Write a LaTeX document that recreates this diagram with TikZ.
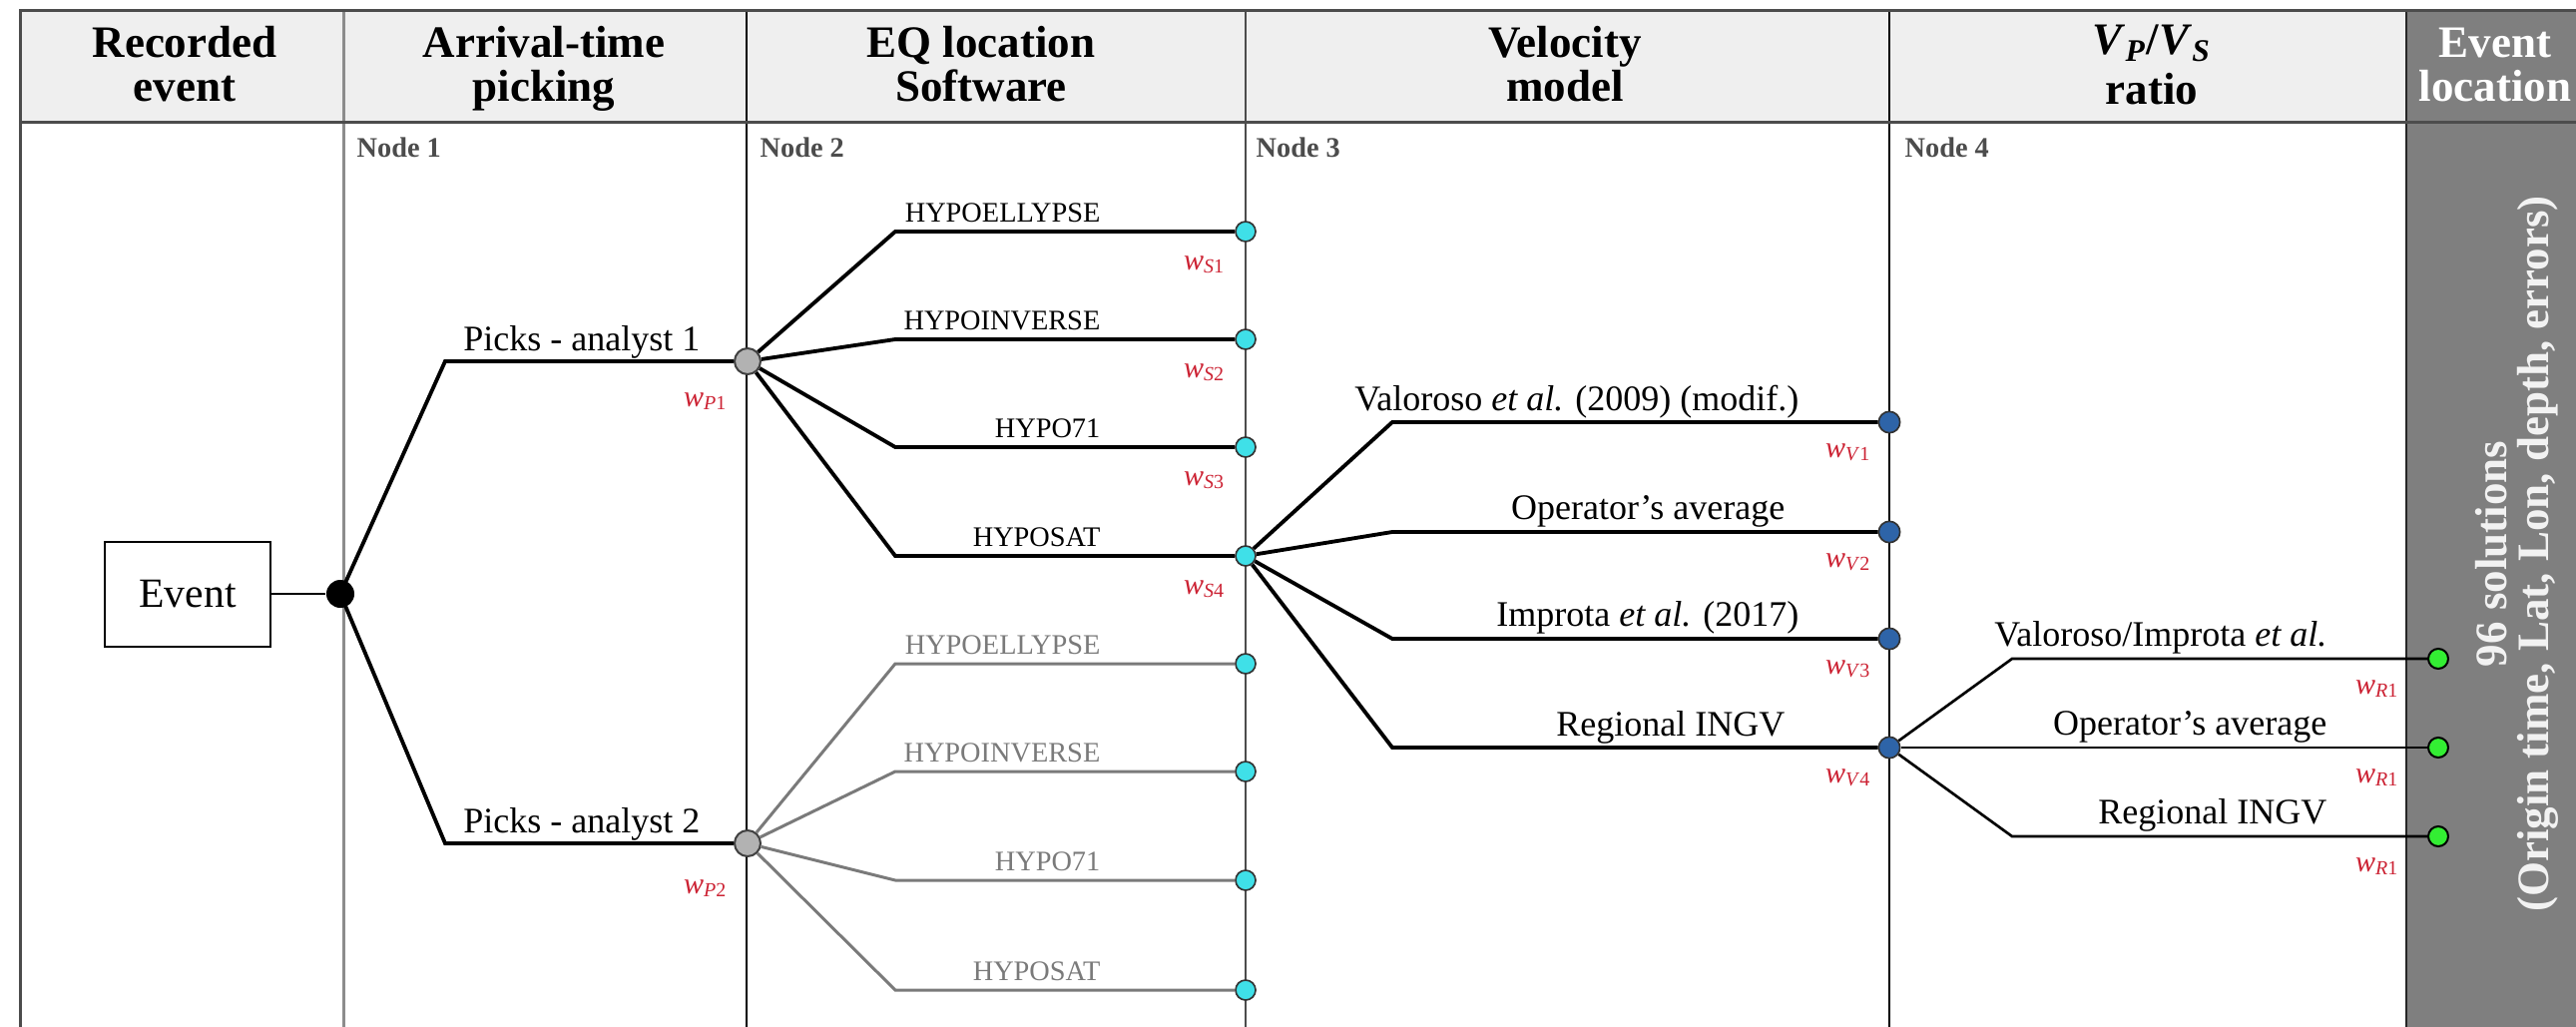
\documentclass[tikz,border=0pt]{standalone}
\usepackage{fontspec}
\setmainfont{Liberation Serif}
\definecolor{hdr}{HTML}{EFEFEF}
\definecolor{darkcol}{HTML}{7F7F7F}
\definecolor{cyandot}{HTML}{3FE0E8}
\definecolor{bluedot}{HTML}{2E64A8}
\definecolor{greendot}{HTML}{33EE33}
\definecolor{wred}{HTML}{CC2233}
\definecolor{graybr}{HTML}{7A7A7A}
\begin{document}
\begin{tikzpicture}[x=0.3pt,y=-0.3pt,
  title/.style={font=\fontsize{13.5}{13.2}\selectfont\bfseries, align=center, inner sep=0, anchor=base},
  nodelbl/.style={font=\fontsize{8.5}{10}\selectfont\bfseries, text=black!70, anchor=base west, inner sep=0},
  lbl/.style={font=\fontsize{10.8}{12}\selectfont, anchor=base east, inner sep=0},
  hlbl/.style={font=\fontsize{8.5}{10}\selectfont, anchor=base east, inner sep=0},
  wlbl/.style={font=\fontsize{9}{10}\selectfont, text=wred, inner sep=0},
  branch/.style={line width=1.15pt, black},
  gbranch/.style={line width=0.9pt, graybr},
  thinbranch/.style={line width=0.8pt, black},
  blackdot/.style={circle, fill=black, inner sep=0, minimum size=8.4pt},
  greydot/.style={circle, fill=black!30, draw=black!75, line width=0.6pt, inner sep=0, minimum size=7.8pt},
  cdot/.style={circle, fill=cyandot, draw=black!80, line width=0.5pt, inner sep=0, minimum size=6pt},
  vdot/.style={circle, fill=bluedot, draw=black!80, line width=0.5pt, inner sep=0, minimum size=6.4pt},
  rdot/.style={circle, fill=greendot, draw=black, line width=0.6pt, inner sep=0, minimum size=6pt},
]
\useasboundingbox (0,0) rectangle (2581,1029);
\fill[white] (0,0) rectangle (2581,1029);
% header and dark column
\fill[hdr] (20,10) rectangle (2411,122);
\fill[darkcol] (2411,10) rectangle (2581,1029);
% column lines
\draw[black!45, line width=0.9pt] (344,10) -- (344,1029);
\draw[black, line width=0.6pt] (748,10) -- (748,1029);
\draw[black!70, line width=0.6pt] (1248,10) -- (1248,1029);
\draw[black, line width=0.8pt] (1893,10) -- (1893,1029);
\draw[black!85, line width=0.8pt] (2411,10) -- (2411,1029);
% frame
\draw[black!70, line width=0.9pt] (20,1029) -- (20,10) -- (2581,10);
\draw[black!70, line width=0.9pt] (20,122) -- (2581,122);

% header titles
\node[title] (t1) at (185,102) {Recorded\\event};
\node[title] (t2) at (545,102) {Arrival-time\\picking};
\node[title] (t3) at (983,102) {EQ location\\Software};
\node[title] (t4) at (1568,102) {Velocity\\model};
\node[title, font=\fontsize{13.5}{15}\selectfont\bfseries] (t5) at (2156,104) {\textit{V}\textsubscript{\textit{P}}/\textit{V}\textsubscript{\textit{S}}\\ratio};
\node[title, text=white] (t6) at (2500,102) {Event\\location};

% node labels
\node[nodelbl] (n1) at (357,157) {Node 1};
\node[nodelbl] (n2) at (761,157) {Node 2};
\node[nodelbl] (n3) at (1258,157) {Node 3};
\node[nodelbl] (n4) at (1908,157) {Node 4};

% event box and dots
\node[draw, line width=0.6pt, minimum width=49.8pt, minimum height=31.5pt, inner sep=0,
      font=\fontsize{12.5}{14}\selectfont] (ev) at (188,595) {Event};
\node[blackdot] (bd) at (341,595) {};
\node[greydot] (g1) at (749,362) {};
\node[greydot] (g2) at (749,845) {};
\foreach \i/\y in {1/232,2/340,3/448,4/557,5/665,6/773,7/882,8/992}
  \node[cdot] (c\i) at (1248,\y) {};
\foreach \i/\y in {1/423,2/533,3/640,4/749}
  \node[vdot] (v\i) at (1893,\y) {};
\foreach \i/\y in {1/660,2/749,3/838}
  \node[rdot] (r\i) at (2443,\y) {};

% kinks
\coordinate (pk1) at (446,362);
\coordinate (pk2) at (446,845);
\foreach \i/\y in {1/232,2/340,3/448,4/557,5/665,6/773,7/882,8/992}
  \coordinate (sk\i) at (897,\y);
\foreach \i/\y in {1/423,2/533,3/640,4/749}
  \coordinate (vk\i) at (1395,\y);
\coordinate (rk1) at (2016,660);
\coordinate (rk3) at (2016,838);

% connectors
\draw[line width=0.7pt] (ev) -- (bd);
\draw[branch] (bd.center) -- (pk1) -- (g1);
\draw[branch] (bd.center) -- (pk2) -- (g2);
\foreach \i in {1,2,3,4}
  \draw[branch] (g1) -- (sk\i) -- (c\i);
\foreach \i in {5,6,7,8}
  \draw[gbranch] (g2) -- (sk\i) -- (c\i);
\foreach \i in {1,2,3,4}
  \draw[branch] (c4) -- (vk\i) -- (v\i);
\draw[thinbranch] (v4) -- (rk1) -- (r1);
\draw[thinbranch] (v4) -- (r2);
\draw[thinbranch] (v4) -- (rk3) -- (r3);

% branch labels
\node[lbl] (lp1) at (702,351) {Picks - analyst 1};
\node[lbl] (lp2) at (702,834) {Picks - analyst 2};
\node[hlbl] (ls1) at (1103,222) {HYPOELLYPSE};
\node[hlbl] (ls2) at (1103,330) {HYPOINVERSE};
\node[hlbl] (ls3) at (1103,438) {HYPO71};
\node[hlbl] (ls4) at (1103,547) {HYPOSAT};
\node[hlbl, text=graybr] (ls5) at (1103,655) {HYPOELLYPSE};
\node[hlbl, text=graybr] (ls6) at (1103,763) {HYPOINVERSE};
\node[hlbl, text=graybr] (ls7) at (1103,872) {HYPO71};
\node[hlbl, text=graybr] (ls8) at (1103,982) {HYPOSAT};
\node[lbl] (lv1) at (1803,411) {Valoroso \textit{et al.} (2009) (modif.)};
\node[lbl] (lv2) at (1789,520) {Operator's average};
\node[lbl] (lv3) at (1803,627) {Improta \textit{et al.} (2017)};
\node[lbl] (lv4) at (1789,737) {Regional INGV};
\node[lbl] (lr1) at (2332,647) {Valoroso/Improta \textit{et al.}};
\node[lbl] (lr2) at (2332,736) {Operator's average};
\node[lbl] (lr3) at (2332,825) {Regional INGV};

% weights
\node[wlbl] (wp1) at (707,402) {\textit{w}\textsubscript{\textit{P}1}};
\node[wlbl] (wp2) at (707,890) {\textit{w}\textsubscript{\textit{P}2}};
\node[wlbl] (ws1) at (1207,265) {\textit{w}\textsubscript{\textit{S}1}};
\node[wlbl] (ws2) at (1207,373) {\textit{w}\textsubscript{\textit{S}2}};
\node[wlbl] (ws3) at (1207,481) {\textit{w}\textsubscript{\textit{S}3}};
\node[wlbl] (ws4) at (1207,590) {\textit{w}\textsubscript{\textit{S}4}};
\node[wlbl] (wv1) at (1852,453) {\textit{w}\textsubscript{\textit{V}1}};
\node[wlbl] (wv2) at (1852,563) {\textit{w}\textsubscript{\textit{V}2}};
\node[wlbl] (wv3) at (1852,670) {\textit{w}\textsubscript{\textit{V}3}};
\node[wlbl] (wv4) at (1852,779) {\textit{w}\textsubscript{\textit{V}4}};
\node[wlbl] (wr1) at (2382,690) {\textit{w}\textsubscript{\textit{R}1}};
\node[wlbl] (wr2) at (2382,779) {\textit{w}\textsubscript{\textit{R}1}};
\node[wlbl] (wr3) at (2382,868) {\textit{w}\textsubscript{\textit{R}1}};

% solutions text
\node[rotate=90, font=\fontsize{13.5}{12.5}\selectfont\bfseries, text=white!95!black, align=center, inner sep=0] (sol) at (2522,555) {96 solutions\\(Origin time, Lat, Lon, depth, errors)};
\end{tikzpicture}
\end{document}
